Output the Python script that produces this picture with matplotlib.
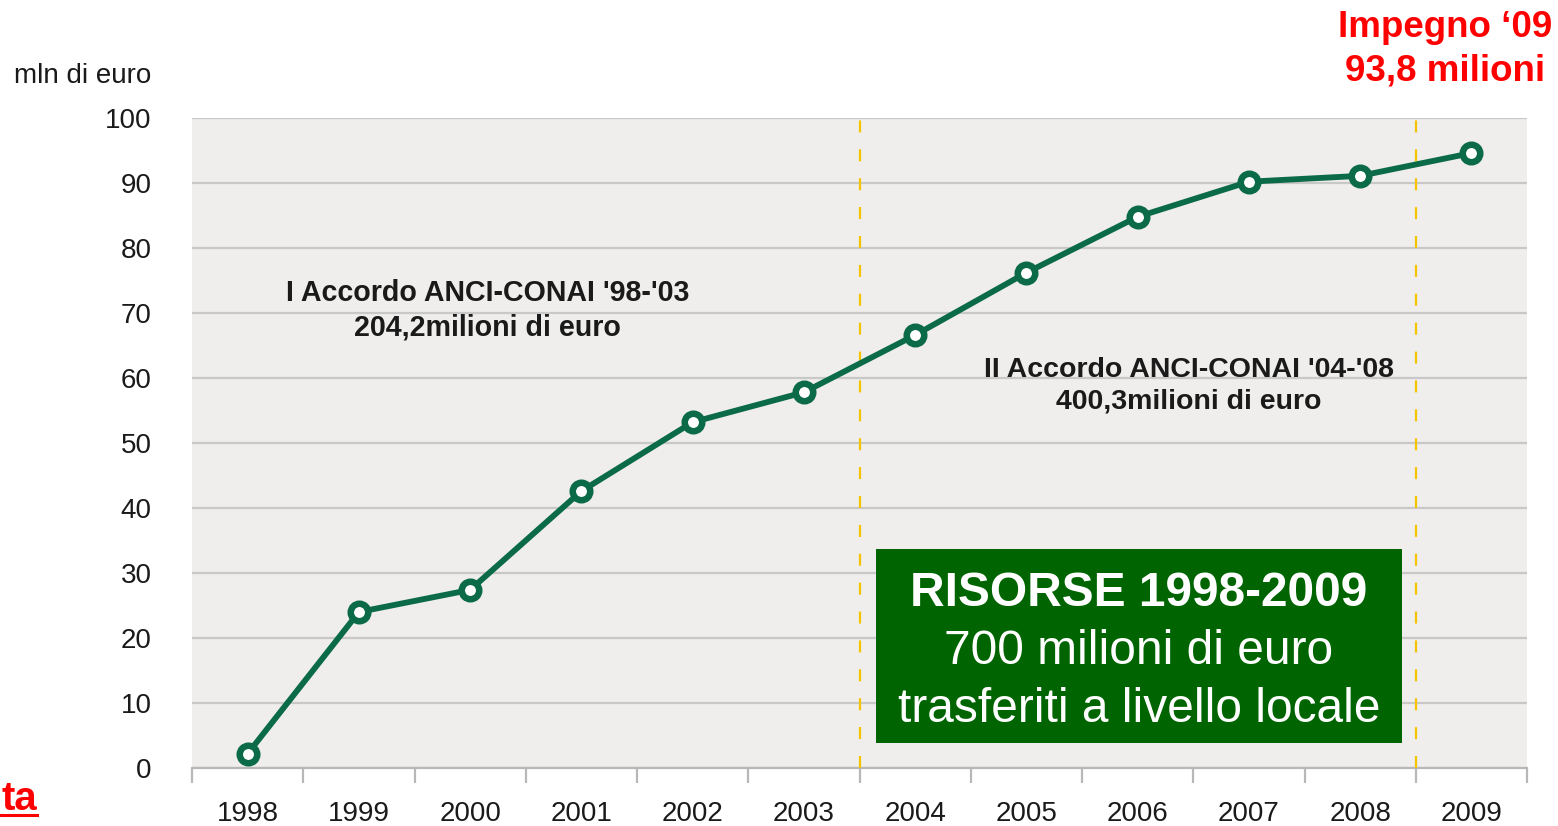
import matplotlib
matplotlib.use('Agg')
import matplotlib.pyplot as plt
from matplotlib.patches import Rectangle
from matplotlib.lines import Line2D

# ---- data ----
years = ['1998', '1999', '2000', '2001', '2002', '2003',
         '2004', '2005', '2006', '2007', '2008', '2009']
values = [2.2, 24.0, 27.4, 42.6, 53.2, 57.8, 66.6, 76.2, 84.8, 90.2, 91.1, 94.6]
y_ticks = [0, 10, 20, 30, 40, 50, 60, 70, 80, 90, 100]
period_breaks = [5.5, 10.5]
label_1 = "I Accordo ANCI-CONAI '98-'03\n204,2milioni di euro"
label_2 = "II Accordo ANCI-CONAI '04-'08\n400,3milioni di euro"
box_lines = ["RISORSE 1998-2009", "700 milioni di euro", "trasferiti a livello locale"]
red_lines = ["Impegno \u201809", "93,8 milioni"]
unit_label = "mln di euro"

plt.rcParams['font.family'] = ['Liberation Sans', 'DejaVu Sans']

W, H = 1558, 826
fig = plt.figure(figsize=(W / 100, H / 100), dpi=100)

def fx(px):
    return px / W

def fy(py):
    return 1 - py / H

ax = fig.add_axes([fx(192), fy(768), fx(1527) - fx(192), fy(118) - fy(768)])
ax.set_facecolor('#efeeec')

green = '#0b6a47'
xs = list(range(len(years)))
ax.plot(xs, values, color=green, lw=4.2, marker='o', ms=12.6, mfc='white',
        mec=green, mew=4.7, clip_on=False, zorder=5)

ax.set_xlim(-0.5, len(years) - 0.5)
ax.set_ylim(0, 100)
ax.set_yticks(y_ticks)
ax.yaxis.grid(True, color='#c8c8c8', lw=1.6)
ax.set_axisbelow(True)
for s in ['top', 'right', 'left']:
    ax.spines[s].set_visible(False)
ax.spines['bottom'].set_color('#b8b8b8')
ax.spines['bottom'].set_linewidth(1.6)

ax.tick_params(axis='y', length=0, pad=29, labelsize=20, labelcolor='#1a1a1a')
ax.set_xticks(xs)
ax.set_xticklabels(years)
ax.tick_params(axis='x', which='major', length=0, pad=23.5, labelsize=20,
               labelcolor='#1a1a1a')
ax.set_xticks([i - 0.5 for i in range(len(years) + 1)], minor=True)
ax.tick_params(axis='x', which='minor', length=11, width=1.6, color='#b8b8b8')

for b in period_breaks:
    ax.axvline(b, color='#f5c400', lw=1.6, ls=(0, (5.4, 7.6)), zorder=3)

ax.text(2.16, 70.4, label_1, ha='center', va='center', fontsize=20.6,
        fontweight='bold', linespacing=1.3, color='#1a1a1a')
ax.text(8.46, 58.8, label_2, ha='center', va='center', fontsize=20.5,
        fontweight='bold', linespacing=1.3, color='#1a1a1a')

# green box
fig.add_artist(Rectangle((fx(876), fy(743)), fx(1402) - fx(876), fy(549) - fy(743),
                         transform=fig.transFigure, facecolor='#006400',
                         edgecolor='none', zorder=6))
bx = fx(1139)
fig.text(bx, fy(606), box_lines[0], ha='center', va='baseline', fontsize=34.5,
         fontweight='bold', color='white', zorder=7)
fig.text(bx, fy(664), box_lines[1], ha='center', va='baseline', fontsize=34.5,
         color='white', zorder=7)
fig.text(bx, fy(722), box_lines[2], ha='center', va='baseline', fontsize=34.5,
         color='white', zorder=7)

# red header
fig.text(fx(1445), fy(37), red_lines[0], ha='center', va='baseline', fontsize=26.5,
         fontweight='bold', color='#ff0000')
fig.text(fx(1445), fy(81), red_lines[1], ha='center', va='baseline', fontsize=26.5,
         fontweight='bold', color='#ff0000')

# unit label
fig.text(fx(14), fy(83), unit_label, ha='left', va='baseline', fontsize=20,
         color='#1a1a1a')

# cropped red underlined text at bottom left
fig.text(fx(37), fy(810), 'ta', ha='right', va='baseline', fontsize=29,
         fontweight='bold', color='#ff0000')
fig.add_artist(Line2D([0, fx(37)], [fy(815), fy(815)], transform=fig.transFigure,
                      color='#ff0000', lw=2.2))

fig.savefig('out.png', dpi=100)
